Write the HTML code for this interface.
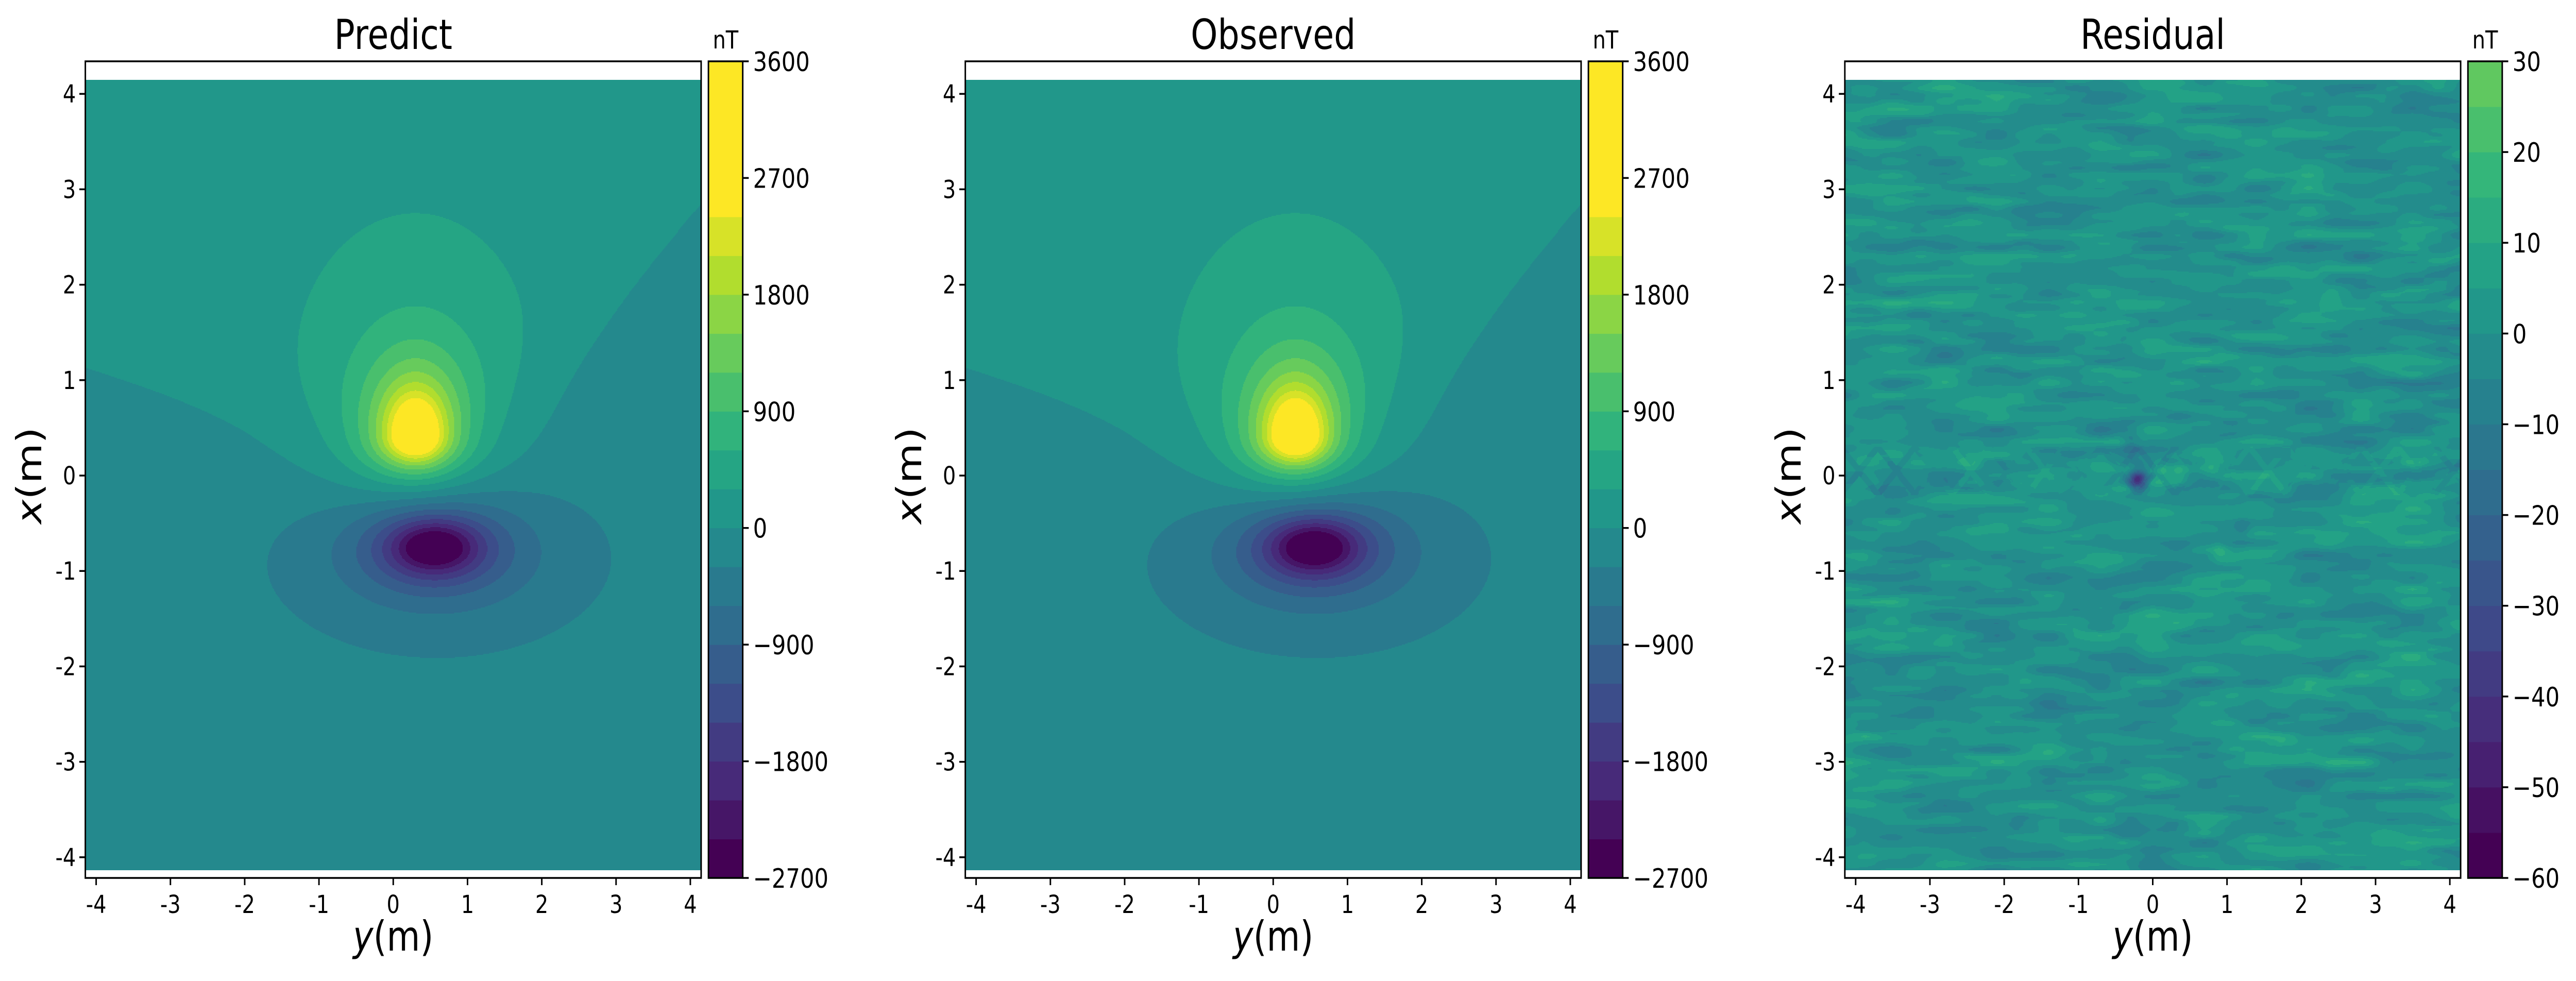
<!DOCTYPE html>
<html><head><meta charset="utf-8">
<style>
html,body{margin:0;padding:0;background:#fff;overflow:hidden;}
#wrap{position:absolute;left:0;top:0;width:6007px;height:1904px;overflow:hidden;font-family:"DejaVu Sans","Liberation Sans",sans-serif;transform-origin:0 0;}
canvas{position:absolute;image-rendering:pixelated;display:block;}
svg{position:absolute;left:0;top:0;display:block;overflow:hidden;}
</style></head>
<body>
<div id="wrap">
<canvas id="c0"></canvas>
<canvas id="c1"></canvas>
<canvas id="c2"></canvas>
<svg id="svg" width="6007" height="1904" viewBox="0 0 6007 1904" xmlns="http://www.w3.org/2000/svg"></svg>
</div>
<script>
// ---------- data ----------
const panelTitles = ["Predict", "Observed", "Residual"];
const axisTicks = [-4, -3, -2, -1, 0, 1, 2, 3, 4];
const predLevels = [-2700,-2400,-2100,-1800,-1500,-1200,-900,-600,-300,0,300,600,900,1200,1500,1800,2100,2400,3600];
const predCbarTicks = [3600, 2700, 1800, 900, 0, -900, -1800, -2700];
const resLevels = [-60,-55,-50,-45,-40,-35,-30,-25,-20,-15,-10,-5,0,5,10,15,20,25,30];
const resCbarTicks = [30, 20, 10, 0, -10, -20, -30, -40, -50, -60];
// dipole lobes (y-centre, x-centre, amplitude nT, y-scale, x-scale above, x-scale below, exponent)
const lobeY = [0.3, 0.55];
const lobeX = [0.4, -0.75];
const lobeAmp = [3800, -3300];
const lobeSy = [0.47, 0.68];
const lobeSxUp = [0.55, 0.32];
const lobeSxDown = [0.3, 0.32];
const lobeP = [1.0, 1.0];
// regional zero line (y, x)
const zeroLineY = [-4.2, -2, -0.5, 0.5, 1.7, 2.3, 2.8, 3.5, 4.2];
const zeroLineX = [1.15, 0.65, 0.25, 0.2, 0.85, 1.4, 1.8, 2.4, 3.0];
// residual features
const spotY = [-0.2, 0.1, 0.35, 0.8, -0.3, 1.2, 0.9];
const spotX = [-0.05, 0.05, 0.05, 0.1, 0.35, -0.55, -0.8];
const spotAmp = [-45, 14, 10, 8, -12, -10, 10];

// ---------- layout ----------
const panelLeft = [199, 2251, 4302];
const axTop = 119, axBot = 1704, axW = 1436;
const x0px = 923, xPerUnit = 185.2, yPerUnit = 173.2;
const dataTop = 155, dataBot = 1689, yLim = 4.145;
const cbOff = 1453, cbW = 80;
const NS = "http://www.w3.org/2000/svg";
const svg = document.getElementById('svg');

function fit(){
  const w=window.innerWidth||6007, h=window.innerHeight||1904;
  const sx=w/6007, sy=h/1904;
  document.getElementById('wrap').style.transform=(Math.abs(sx-1)<0.002&&Math.abs(sy-1)<0.002)?'none':'scale('+sx+','+sy+')';
}
fit();
window.addEventListener('resize',fit);

const vir = ["#440154","#482878","#3e4989","#31688e","#26828e","#1f9e89","#35b779","#6ece58","#b5de2b","#fde725"].map(h=>[parseInt(h.substr(1,2),16),parseInt(h.substr(3,2),16),parseInt(h.substr(5,2),16)]);
function viridis(t){t=Math.max(0,Math.min(1,t));const f=t*9;const i=Math.min(8,Math.floor(f));const u=f-i;
 return [0,1,2].map(k=>Math.round(vir[i][k]+(vir[i+1][k]-vir[i][k])*u));}
function rgb(c){return "rgb("+c[0]+","+c[1]+","+c[2]+")";}

function interp(xs, ys, v){ if(v<=xs[0])return ys[0]; for(let i=1;i<xs.length;i++){ if(v<=xs[i]){const t=(v-xs[i-1])/(xs[i]-xs[i-1]);return ys[i-1]+t*(ys[i]-ys[i-1]);}} return ys[ys.length-1];}

function predField(y, x){
  let v = 0;
  for(let i=0;i<lobeY.length;i++){
    const dy=(y-lobeY[i])/lobeSy[i];
    const dx=(x-lobeX[i])/(x>lobeX[i]?lobeSxUp[i]:lobeSxDown[i]);
    v += lobeAmp[i]*Math.pow(1+dy*dy+dx*dx, -lobeP[i]);
  }
  v += 130*Math.tanh((x - interp(zeroLineY, zeroLineX, y))/0.6);
  return v;
}
function hash(i,j){let h=(i*374761393+j*668265263)>>>0;h=((h^(h>>>13))*1274126177)>>>0;return ((h^(h>>>16))&0xffff)/65535*2-1;}
function vnoise(y,x,sy,sx,seed){const gy=y/sy,gx=x/sx;const i=Math.floor(gy),j=Math.floor(gx);const u=gy-i,w=gx-j;
  const s=u*u*(3-2*u),t=w*w*(3-2*w);
  const a=hash(i+seed,j),b=hash(i+1+seed,j),c=hash(i+seed,j+1),d=hash(i+1+seed,j+1);
  return a*(1-s)*(1-t)+b*s*(1-t)+c*(1-s)*t+d*s*t;}
function resField(y,x){
  let v = 8*vnoise(y,x,0.7,0.12,11)+5*vnoise(y,x,0.35,0.07,53);
  const dx=Math.abs(x-0.05);
  if(dx<0.25){const ph=Math.abs(((y+4.2)/0.5)%1-0.5)*0.5; if(Math.abs(dx-ph)<0.05) v+=7*vnoise(y,0,0.5,1,7);}
  for(let i=0;i<spotY.length;i++){const a=(y-spotY[i])/0.12,b=(x-spotX[i])/0.1;v+=spotAmp[i]*Math.exp(-(a*a+b*b));}
  return v;
}
function bandIndex(levels,v){for(let i=1;i<levels.length;i++){if(v<levels[i])return i-1;}return levels.length-2;}

function draw(cid, left, field, levels, cscale){
  const cv=document.getElementById(cid);
  const W=718,H=767;
  cv.width=W;cv.height=H;
  cv.style.left=left+"px";cv.style.top=dataTop+"px";
  cv.style.width=axW+"px";cv.style.height=(dataBot-dataTop)+"px";
  const ctx=cv.getContext('2d');const img=ctx.createImageData(W,H);
  const nb=levels.length-1;
  const cols=[];for(let i=0;i<nb;i++)cols.push(viridis(i/(nb-1)*cscale));
  for(let r=0;r<H;r++){
    const py=dataTop+(r+0.5)/H*(dataBot-dataTop);
    const x=(x0px-py)/xPerUnit;
    for(let c=0;c<W;c++){
      const y=-yLim+(c+0.5)/W*2*yLim;
      const col=cols[bandIndex(levels,field(y,x))];
      const k=(r*W+c)*4;img.data[k]=col[0];img.data[k+1]=col[1];img.data[k+2]=col[2];img.data[k+3]=255;
    }
  }
  ctx.putImageData(img,0,0);
  return cols;
}
function el(tag, attrs, parent){const e=document.createElementNS(NS,tag);for(const k in attrs)e.setAttribute(k,attrs[k]);(parent||svg).appendChild(e);return e;}

function axes(p, left, title, levels, cols, cbTicks){
  const g=el('g',{});
  
  
  const cx=left+axW/2;
  const t=el('text',{x:cx,y:95,'font-size':80,'text-anchor':'middle'},g);t.textContent=title;
  
  
  const fr=el('rect',{x:left,y:axTop,width:axW,height:axBot-axTop,fill:'none',stroke:'#000','stroke-width':3.5},g);
  
  
  axisTicks.forEach(v=>{
    const px=cx+yPerUnit*v;
    const tk=el('line',{x1:px,x2:px,y1:axBot,y2:axBot+14,stroke:'#000','stroke-width':3.5},g);
    
    
    const tl=el('text',{x:px,y:1772,'font-size':48,'text-anchor':'middle'},g);tl.textContent=String(v);
    
    
    const py=x0px-xPerUnit*v;
    const tk2=el('line',{x1:left-14,x2:left,y1:py,y2:py,stroke:'#000','stroke-width':3.5},g);
    
    
    const tl2=el('text',{x:left-22,y:py+17,'font-size':48,'text-anchor':'end'},g);tl2.textContent=String(v);
    
    
  });
  const xl=el('text',{x:cx,y:1845,'font-size':80,'text-anchor':'middle'},g);
  xl.innerHTML='<tspan font-style="italic">y</tspan>(m)';
  
  
  const yl=el('text',{x:0,y:0,'font-size':80,'text-anchor':'middle',transform:'translate('+(left-103)+','+x0px+') rotate(-90)'},g);
  yl.innerHTML='<tspan font-style="italic">x</tspan>(m)';
  
  
  const cbL=left+cbOff;
  const lo=levels[0],hi=levels[levels.length-1];
  const vy=v=>axBot-(v-lo)/(hi-lo)*(axBot-axTop);
  for(let i=0;i<levels.length-1;i++){
    const r=el('rect',{x:cbL,y:vy(levels[i+1]),width:cbW,height:vy(levels[i])-vy(levels[i+1])+0.5,fill:rgb(cols[i])},g);
    
    
  }
  const cf=el('rect',{x:cbL,y:axTop,width:cbW,height:axBot-axTop,fill:'none',stroke:'#000','stroke-width':3.5},g);
  
  
  cbTicks.forEach(v=>{
    const py=vy(v);
    const tk=el('line',{x1:cbL+cbW,x2:cbL+cbW+14,y1:py,y2:py,stroke:'#000','stroke-width':3.5},g);
    
    
    const tl=el('text',{x:cbL+cbW+24,y:py+19,'font-size':52},g);tl.textContent=(v<0?'\u2212'+(-v):String(v));
    
    
  });
  const u=el('text',{x:cbL+cbW/2,y:94,'font-size':48,'text-anchor':'middle'},g);u.textContent='nT';
  
  
}

const pc=draw('c0',panelLeft[0],predField,predLevels,1);
draw('c1',panelLeft[1],predField,predLevels,1);
const rc=draw('c2',panelLeft[2],resField,resLevels,0.75);
axes(0,panelLeft[0],panelTitles[0],predLevels,pc,predCbarTicks);
axes(1,panelLeft[1],panelTitles[1],predLevels,pc,predCbarTicks);
axes(2,panelLeft[2],panelTitles[2],resLevels,rc,resCbarTicks);
</script>
</body></html>
